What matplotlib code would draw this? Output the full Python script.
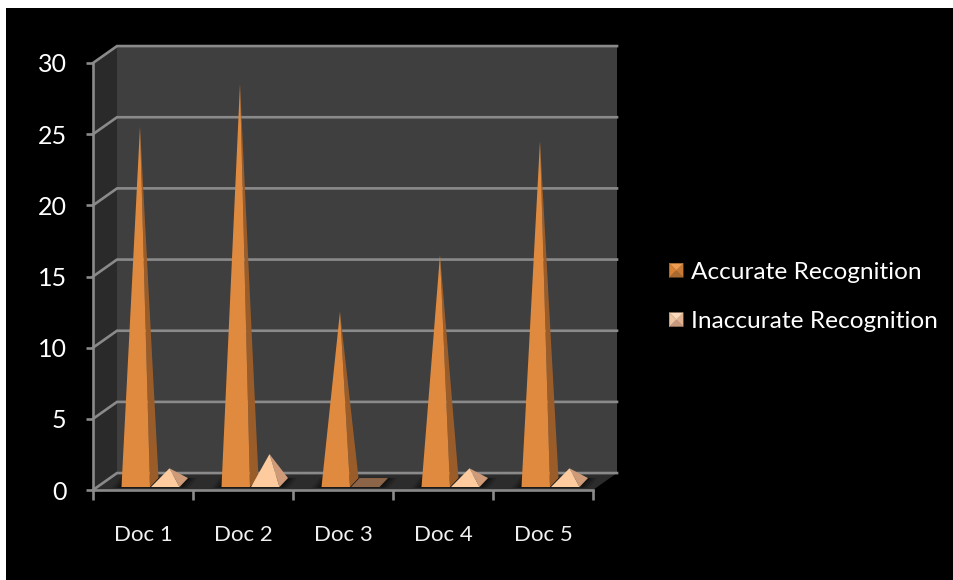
import matplotlib
matplotlib.use("Agg")
import matplotlib.pyplot as plt
from matplotlib.legend_handler import HandlerBase
from matplotlib.patches import Polygon, Rectangle

plt.rcParams['font.family'] = ['Lato', 'DejaVu Sans']

docs = ["Doc 1", "Doc 2", "Doc 3", "Doc 4", "Doc 5"]
accurate = [25, 28, 12, 16, 24]
inaccurate = [1, 2, 0, 1, 1]
y_ticks = [0, 5, 10, 15, 20, 25, 30]

W, H = 954, 580

# depth of the fake 3d box, in data units
wall_dx = 0.24
wall_dy = 1.19

# footprint of each pyramid on the floor
base_front = 0.21
base_back = 0.84
base_dx = 0.085
base_w = 0.285

grid_col = "#8a8a8a"


class PyramidHandler(HandlerBase):
    # legend key: a square split in four triangles like a pyramid from above
    def __init__(self, cols):
        super().__init__()
        self.cols = cols

    def create_artists(self, legend, orig_handle, xdescent, ydescent, width, height, fontsize, trans):
        s = 10
        x0 = (width - s) / 2 - xdescent
        y0 = (height - s) / 2 - ydescent
        c = (x0 + s / 2, y0 + s / 2)
        a = (x0, y0)
        b = (x0 + s, y0)
        d = (x0 + s, y0 + s)
        e = (x0, y0 + s)
        tris = [[a, b, c], [b, d, c], [d, e, c], [e, a, c]]
        return [Polygon(t, closed=True, facecolor=k, edgecolor=k, lw=0.2, transform=trans)
                for t, k in zip(tris, self.cols)]


def draw_pyramid(ax, x0, value, front, side, flat):
    x1 = x0 + base_w
    if value == 0:
        ax.add_patch(Polygon([(x0, base_front), (x1, base_front), (x1 + base_dx, base_back), (x0 + base_dx, base_back)],
                             facecolor=flat, edgecolor="none", clip_on=False, zorder=4))
        return
    apex = (x0 + (base_w + base_dx) / 2, (base_front + base_back) / 2 + value)
    ax.add_patch(Polygon([(x1, base_front), (x1 + base_dx, base_back), apex],
                         facecolor=side, edgecolor="none", clip_on=False, zorder=4))
    ax.add_patch(Polygon([(x0, base_front), (x1, base_front), apex],
                         facecolor=front, edgecolor="none", clip_on=False, zorder=4))


fig = plt.figure(figsize=(W / 100, H / 100), dpi=100, facecolor="white")
fig.patches.append(Rectangle((6 / W, 0), 1 - 6 / W, 1 - 8 / H, transform=fig.transFigure,
                             facecolor="black", edgecolor="none", zorder=-1))

ax = fig.add_axes([93 / W, (H - 490) / H, 500 / W, 427 / H])
ax.patch.set_alpha(0)
ax.set_xlim(0, 5)
ax.set_ylim(0, 30)

# back wall, side wall, floor
ax.add_patch(Polygon([(wall_dx, wall_dy), (5 + wall_dx, wall_dy), (5 + wall_dx, 30 + wall_dy), (wall_dx, 30 + wall_dy)],
                     facecolor="#3f3f3f", edgecolor="none", clip_on=False, zorder=1))
ax.add_patch(Polygon([(0, 0), (wall_dx, wall_dy), (wall_dx, 30 + wall_dy), (0, 30)],
                     facecolor="#2a2a2a", edgecolor="none", clip_on=False, zorder=1))
ax.add_patch(Polygon([(0, 0), (5, 0), (5 + wall_dx, wall_dy), (wall_dx, wall_dy)],
                     facecolor="#2c2c2c", edgecolor="none", clip_on=False, zorder=2))

# soft dark patch on the floor around each pair of pyramids
for i in range(len(docs)):
    for grow, alpha in [(0.09, 0.15), (0.06, 0.2), (0.03, 0.25)]:
        ax.add_patch(Polygon([(i + 0.28 - grow, 0.15), (i + 0.87 + grow, 0.15),
                              (i + 0.95 + grow, 0.85), (i + 0.36 - grow, 0.85)],
                             facecolor="black", alpha=alpha, edgecolor="none", clip_on=False, zorder=2.5))

for v in y_ticks:
    ax.plot([0, wall_dx, 5 + wall_dx], [v, v + wall_dy, v + wall_dy], color=grid_col, lw=1.9,
            clip_on=False, zorder=3, solid_joinstyle="miter")

for i in range(len(docs)):
    draw_pyramid(ax, i + 0.285, accurate[i], "#e08a3f", "#9a5d2a", "#9a5d2a")
for i in range(len(docs)):
    draw_pyramid(ax, i + 0.58, inaccurate[i], "#fdcb9e", "#cf9a78", "#8c6549")

ax.set_yticks(y_ticks)
ax.set_xticks(range(len(docs) + 1))
ax.set_xticklabels([])
ax.set_xticks([i + 0.5 for i in range(len(docs))], minor=True)
ax.set_xticklabels(docs, minor=True)
ax.tick_params(axis="x", which="major", length=7, width=1.9, color=grid_col, direction="out")
ax.tick_params(axis="x", which="minor", length=0, pad=25.5, labelsize=16, labelcolor="#f0f0f0")
ax.tick_params(axis="y", length=5, width=1.9, color=grid_col, direction="out", pad=14,
               labelsize=18, labelcolor="white")
for s in ["top", "right"]:
    ax.spines[s].set_visible(False)
for s in ["left", "bottom"]:
    ax.spines[s].set_color(grid_col)
    ax.spines[s].set_linewidth(1.9)
    ax.spines[s].set_zorder(3)

h1 = Rectangle((0, 0), 1, 1)
h2 = Rectangle((0, 0), 1, 1)
leg = fig.legend([h1, h2], ["Accurate Recognition", "Inaccurate Recognition"],
                 handler_map={
                     h1: PyramidHandler(["#a86a30", "#c77a35", "#ee9d52", "#d98236"]),
                     h2: PyramidHandler(["#c79a80", "#e0b090", "#fbd9bb", "#efc4a2"]),
                 },
                 loc="center left", bbox_to_anchor=(664 / W, (H - 297) / H), frameon=False,
                 fontsize=17.6, labelcolor="white", handlelength=1.0, handletextpad=0.09,
                 labelspacing=1.15, borderpad=0, borderaxespad=0)

fig.savefig("out.png", dpi=100, facecolor=fig.get_facecolor())
